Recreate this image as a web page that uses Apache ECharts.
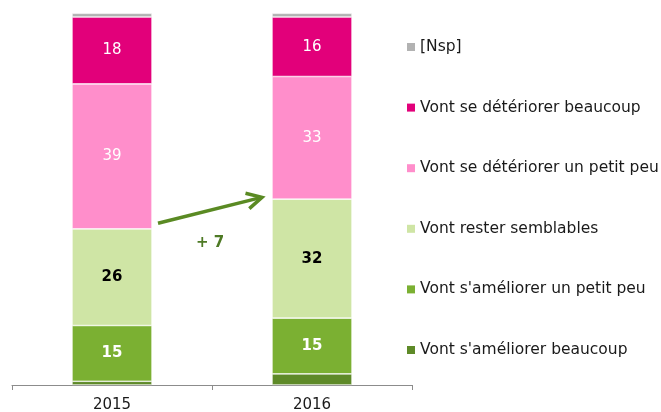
<!DOCTYPE html>
<html>
<head>
<meta charset="utf-8">
<script src="https://cdn.jsdelivr.net/npm/echarts@6/dist/echarts.min.js"></script>
<style>html,body{margin:0;padding:0;background:#fff;}#c{width:661px;height:412px;}</style>
</head>
<body>
<div id="c"></div>
<script>
var categories = ['2015', '2016'];
var ameliorerBeaucoup = [1, 3];
var ameliorerPeu = [15, 15];
var semblables = [26, 32];
var deteriorerPeu = [39, 33];
var deteriorerBeaucoup = [18, 16];
var nsp = [1, 1];
var deltaLabel = '+ 7';

var FONT = '"DejaVu Sans", Verdana, sans-serif';
var chart = echarts.init(document.getElementById('c'));

function mk(name, data, color, label) {
  return {
    name: name, type: 'bar', stack: 'all', data: data, barWidth: 80,
    itemStyle: { color: color, borderColor: '#fff', borderWidth: 0.6 },
    label: label ? Object.assign({ show: true, position: 'inside', fontFamily: FONT, fontSize: 15 }, label) : { show: false },
    emphasis: { disabled: true }
  };
}

chart.setOption({
  animation: false,
  grid: { left: 12, right: 249, top: 13.3, bottom: 27, containLabel: false, outerBoundsMode: 'none' },
  xAxis: {
    type: 'category', data: categories,
    axisLine: { lineStyle: { color: '#8c8c8c', width: 1 } },
    axisTick: { show: true, length: 5, lineStyle: { color: '#8c8c8c' } },
    axisLabel: { fontFamily: FONT, fontSize: 15, color: '#1a1a1a', margin: 13 }
  },
  yAxis: { type: 'value', min: 0, max: 100, show: false, splitLine: { show: false } },
  legend: {
    orient: 'vertical', left: 407, top: 37, padding: 0,
    itemWidth: 8, itemHeight: 8, itemGap: 40.6, icon: 'rect',
    itemStyle: { borderWidth: 0 },
    selectedMode: false,
    textStyle: { fontFamily: FONT, fontSize: 15.5, color: '#1a1a1a', lineHeight: 20 },
    data: ['[Nsp]', 'Vont se détériorer beaucoup', 'Vont se détériorer un petit peu', 'Vont rester semblables', "Vont s'améliorer un petit peu", "Vont s'améliorer beaucoup"]
  },
  series: [
    mk("Vont s'améliorer beaucoup", ameliorerBeaucoup, '#5e8a28', null),
    mk("Vont s'améliorer un petit peu", ameliorerPeu, '#7bb032', { color: '#fff', fontWeight: 'bold' }),
    mk('Vont rester semblables', semblables, '#cfe5a5', { color: '#000', fontWeight: 'bold' }),
    mk('Vont se détériorer un petit peu', deteriorerPeu, '#ff8ecb', { color: '#fff' }),
    mk('Vont se détériorer beaucoup', deteriorerBeaucoup, '#e2007a', { color: '#fff' }),
    mk('[Nsp]', nsp, '#b2b2b2', null)
  ]
});

// arrow annotation between the "semblables" tops
var top0 = ameliorerBeaucoup[0] + ameliorerPeu[0] + semblables[0];
var top1 = ameliorerBeaucoup[1] + ameliorerPeu[1] + semblables[1];
var p0 = chart.convertToPixel({ gridIndex: 0 }, [0, top0 + 1.5]);
var p1 = chart.convertToPixel({ gridIndex: 0 }, [1, top1 + 0.5]);
var x0 = p0[0] + 46, y0 = p0[1];
var x1 = p1[0] - 50, y1 = p1[1];
var ang = Math.atan2(y1 - y0, x1 - x0);
var hl = 17, ha = Math.PI / 6.5;
var a1 = [x1 - hl * Math.cos(ang - ha), y1 - hl * Math.sin(ang - ha)];
var a2 = [x1 - hl * Math.cos(ang + ha), y1 - hl * Math.sin(ang + ha)];
var col = '#5a8a23';
chart.setOption({
  graphic: [
    { type: 'line', shape: { x1: x0, y1: y0, x2: x1 - 1.5 * Math.cos(ang), y2: y1 - 1.5 * Math.sin(ang) }, style: { stroke: col, lineWidth: 3.5, lineCap: 'butt' }, silent: true },
    { type: 'polyline', shape: { points: [a1, [x1, y1], a2] }, style: { stroke: col, lineWidth: 3.5, fill: null, lineJoin: 'miter' }, silent: true },
    { type: 'text', x: (x0 + x1) / 2, y: (y0 + y1) / 2 + 33, style: { text: deltaLabel, fill: '#4e7a25', font: 'bold 15px ' + FONT, align: 'center', verticalAlign: 'middle' }, silent: true }
  ]
});
</script>
</body>
</html>
